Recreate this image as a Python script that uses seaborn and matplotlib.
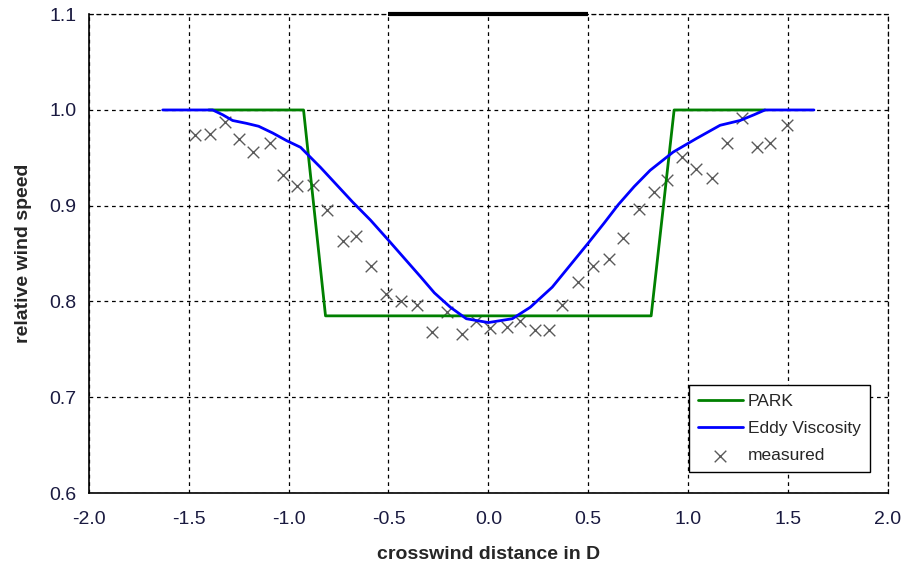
import numpy as np
import pandas as pd
import seaborn as sns
import matplotlib
matplotlib.use('Agg')
import matplotlib.pyplot as plt

# данные
park_x = [-1.40, -0.925, -0.815, 0.815, 0.93, 1.385]
park_y = [1.000, 1.000, 0.785, 0.785, 1.000, 1.000]

eddy_x = [-1.63, -1.38, -1.33, -1.28, -1.21, -1.15, -1.08, -1.01, -0.94, -0.84,
          -0.76, -0.68, -0.59, -0.50, -0.42, -0.34, -0.27, -0.19, -0.11, 0.0,
          0.12, 0.21, 0.32, 0.41, 0.50, 0.58, 0.65, 0.73, 0.81, 0.925,
          1.04, 1.16, 1.26, 1.33, 1.385, 1.63]
eddy_y = [1.000, 1.000, 0.995, 0.989, 0.986, 0.983, 0.976, 0.968, 0.961, 0.940,
          0.922, 0.904, 0.885, 0.864, 0.845, 0.826, 0.809, 0.794, 0.782, 0.778,
          0.782, 0.794, 0.815, 0.838, 0.861, 0.882, 0.901, 0.920, 0.937, 0.956,
          0.970, 0.984, 0.989, 0.995, 1.000, 1.000]

meas_x = [-1.469, -1.391, -1.319, -1.248, -1.177, -1.094, -1.027, -0.960, -0.877, -0.807,
          -0.727, -0.660, -0.585, -0.510, -0.435, -0.359, -0.284, -0.209, -0.134, -0.064,
          0.008, 0.091, 0.158, 0.233, 0.303, 0.371, 0.450, 0.525, 0.603, 0.675,
          0.755, 0.829, 0.895, 0.970, 1.042, 1.120, 1.196, 1.268, 1.343, 1.409, 1.496]
meas_y = [0.974, 0.975, 0.987, 0.970, 0.956, 0.966, 0.932, 0.921, 0.922, 0.896,
          0.863, 0.868, 0.837, 0.808, 0.800, 0.796, 0.768, 0.789, 0.766, 0.780,
          0.772, 0.773, 0.780, 0.770, 0.770, 0.796, 0.820, 0.837, 0.844, 0.866,
          0.897, 0.914, 0.927, 0.951, 0.938, 0.929, 0.966, 0.992, 0.961, 0.965, 0.984]

rotor_x = [-0.5, 0.5]

x_ticks = [-2.0, -1.5, -1.0, -0.5, 0.0, 0.5, 1.0, 1.5, 2.0]
y_ticks = [0.6, 0.7, 0.8, 0.9, 1.0, 1.1]

sns.set_style('white')
plt.rcParams['font.family'] = ['Liberation Sans', 'DejaVu Sans']

fig = plt.figure(figsize=(9.06, 5.68), dpi=100)
ax = fig.add_axes([0.098, 0.132, 0.882, 0.843])

sns.lineplot(x=park_x, y=park_y, color='#008000', linewidth=2.0, ax=ax,
             label='PARK', sort=False)
sns.lineplot(x=eddy_x, y=eddy_y, color='#0000FF', linewidth=2.0, ax=ax,
             label='Eddy Viscosity', sort=False)
sns.scatterplot(x=meas_x, y=meas_y, marker='x', color='#5a5a5a', s=70,
                linewidth=1.0, ax=ax, label='measured', zorder=1)

# ротор
ax.plot(rotor_x, [1.1, 1.1], color='black', linewidth=3, clip_on=False, zorder=5,
        solid_capstyle='butt')

ax.set_xlim(-2.0, 2.0)
ax.set_ylim(0.6, 1.1)
ax.set_xticks(x_ticks)
ax.set_yticks(y_ticks)
ax.set_xticklabels([f'{v:.1f}' for v in x_ticks])
ax.set_yticklabels([f'{v:.1f}' for v in y_ticks])
ax.tick_params(direction='inout', length=6, width=1, labelsize=14, colors='black')
ax.tick_params(axis='y', labelcolor='#1a1a40', pad=6)
ax.tick_params(axis='x', labelcolor='#1a1a40', pad=10)

ax.grid(True, color='black', linestyle=(0, (3, 3)), linewidth=0.9)
ax.set_axisbelow(True)
for s in ['top', 'right']:
    ax.spines[s].set_color('black')
    ax.spines[s].set_linestyle((0, (3, 3)))
    ax.spines[s].set_linewidth(0.9)
for s in ['left', 'bottom']:
    ax.spines[s].set_color('black')
    ax.spines[s].set_linewidth(1.2)

ax.set_xlabel('crosswind distance in D', fontsize=14, fontweight='bold', labelpad=13)
ax.set_ylabel('relative wind speed', fontsize=14, fontweight='bold', labelpad=12)

leg = ax.legend(loc='lower right', bbox_to_anchor=(0.977, 0.044), fontsize=12.5,
                frameon=True, fancybox=False, edgecolor='black', framealpha=1,
                handlelength=2.6, handletextpad=0.3, borderpad=0.5,
                labelspacing=0.7, borderaxespad=0)
leg.get_frame().set_linewidth(1.0)

fig.savefig('out.png', dpi=100)
